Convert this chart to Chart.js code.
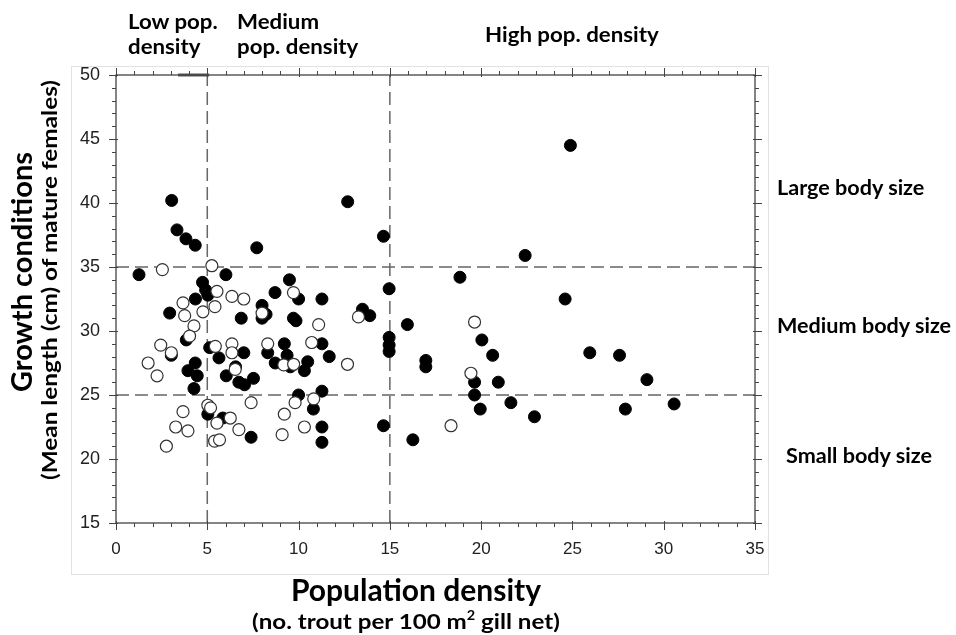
<!DOCTYPE html>
<html>
<head>
<meta charset="utf-8">
<script src="https://cdn.jsdelivr.net/npm/chart.js@4"></script>
<style>
  html, body { margin: 0; padding: 0; background: #fff; }
  #wrap { position: relative; width: 956px; height: 635px; overflow: hidden; }
  #frame { position: absolute; left: 71px; top: 66px; width: 696px; height: 507px; border: 1px solid #e2e2e2; }
  canvas { position: absolute; left: 0; top: 0; }
  .lbl { position: absolute; font-family: Lato, "Open Sans", sans-serif; font-weight: bold; color: #000; white-space: nowrap; }
  .top { font-size: 21px; line-height: 25px; transform: scaleX(1.06); transform-origin: left top; }
  .side { font-size: 20px; transform: translateY(-50%) scaleX(1.08); transform-origin: left center; }
  .rot { transform: translate(-50%, -50%) rotate(-90deg); }
  sup { font-size: 0.6em; vertical-align: 0.7em; line-height: 0; }
</style>
</head>
<body>
<div id="wrap">
  <div id="frame"></div>
  <canvas id="chart" width="956" height="635"></canvas>
  <div class="lbl top" style="left:128px; top:8px;">Low pop.<br>density</div>
  <div class="lbl top" style="left:237px; top:8px;">Medium<br>pop. density</div>
  <div class="lbl top" style="left:485px; top:21px;">High pop. density</div>
  <div class="lbl side" style="left:777px; top:187px;">Large body size</div>
  <div class="lbl side" style="left:777px; top:325px;">Medium body size</div>
  <div class="lbl side" style="left:786px; top:455px;">Small body size</div>
  <div class="lbl" style="left:416px; top:589px; font-size:30px; transform:translate(-50%,-50%);">Population density</div>
  <div class="lbl" style="left:406px; top:620px; font-size:21px; transform:translate(-50%,-50%) scaleX(1.15);">(no. trout per 100 m<sup>2</sup> gill net)</div>
  <div class="lbl rot" style="left:20px; top:272px; font-size:29px;">Growth conditions</div>
  <div class="lbl rot" style="left:48px; top:280px; font-size:21px; transform:translate(-50%,-50%) rotate(-90deg) scaleX(1.16);">(Mean length (cm) of mature females)</div>
</div>
<script>
// population density (x) and mean length (y), solid markers
const filledDensity = [3.05, 3.34, 3.83, 4.34, 7.71, 12.69, 14.65, 1.26, 6.02, 4.74, 4.91, 5.03, 4.35, 9.5, 8.71, 10.0, 11.28, 14.96,
  2.94, 8.0, 8.0, 8.22, 6.86, 9.72, 9.86, 13.5, 13.9, 3.85, 5.13, 5.64, 7.0, 9.22, 8.31, 9.37, 8.72, 9.55, 10.5, 10.32,
  11.28, 11.68, 3.03, 4.34, 3.94, 4.45, 4.27, 6.04, 6.73, 7.04, 7.53, 10.0, 11.28, 14.96, 14.96, 14.96, 5.03, 5.85, 7.4,
  10.81, 11.28, 11.28, 14.65, 6.55, 24.89, 22.41, 18.84, 24.6, 15.96, 16.97, 16.97, 20.04, 20.63, 25.95, 19.64, 20.94,
  19.64, 19.95, 21.63, 22.92, 16.26, 27.58, 29.08, 27.9, 30.57];
const filledLength = [40.2, 37.9, 37.2, 36.7, 36.5, 40.1, 37.4, 34.4, 34.4, 33.8, 33.2, 32.8, 32.5, 34.0, 33.0, 32.5, 32.5, 33.3,
  31.4, 32.0, 31.0, 31.3, 31.0, 31.0, 30.8, 31.7, 31.2, 29.3, 28.7, 27.9, 28.3, 29.0, 28.3, 28.1, 27.5, 27.2, 27.6, 26.9,
  29.0, 28.0, 28.1, 27.5, 26.9, 26.5, 25.5, 26.5, 26.0, 25.8, 26.3, 25.0, 25.3, 29.5, 28.9, 28.4, 23.5, 23.2, 21.7,
  23.9, 22.5, 21.3, 22.6, 27.2, 44.5, 35.9, 34.2, 32.5, 30.5, 27.7, 27.2, 29.3, 28.1, 28.3, 26.0, 26.0,
  25.0, 23.9, 24.4, 23.3, 21.5, 28.1, 26.2, 23.9, 24.3];

// open markers
const openDensity = [2.54, 5.25, 5.53, 6.35, 7.0, 3.67, 3.76, 4.76, 5.42, 4.27, 4.03, 8.0, 9.72, 13.28, 11.1, 2.45, 3.03, 1.76,
  2.25, 5.44, 6.35, 6.35, 8.31, 10.72, 9.19, 9.73, 6.53, 12.68, 5.03, 5.18, 7.4, 3.67, 3.27, 3.94, 2.76, 5.53, 6.26, 6.73,
  5.4, 5.67, 9.22, 9.81, 10.83, 9.1, 10.32, 19.64, 19.44, 18.35];
const openLength = [34.8, 35.1, 33.1, 32.7, 32.5, 32.2, 31.2, 31.5, 31.9, 30.4, 29.6, 31.4, 33.0, 31.1, 30.5, 28.9, 28.3, 27.5,
  26.5, 28.8, 29.0, 28.3, 29.0, 29.1, 27.35, 27.4, 27.0, 27.4, 24.2, 24.0, 24.4, 23.7, 22.5, 22.2, 21.0, 22.8, 23.2, 22.3,
  21.4, 21.5, 23.5, 24.4, 24.7, 21.9, 22.5, 30.7, 26.7, 22.6];

const densityCuts = [5, 15];
const bodySizeCuts = [25, 35];
const xRange = [0, 35];
const yRange = [15, 50];
const topBarX = [3.4, 5.1];

const toPoints = (xs, ys) => xs.map((v, i) => ({ x: v, y: ys[i] }));

const cutLines = [];
densityCuts.forEach(v => cutLines.push([{ x: v, y: yRange[0] }, { x: v, y: yRange[1] }]));
bodySizeCuts.forEach(v => cutLines.push([{ x: xRange[0], y: v }, { x: xRange[1], y: v }]));

const frameTicks = {
  id: 'frameTicks',
  afterDatasetsDraw(chart) {
    const { ctx, chartArea: a, scales: { x, y } } = chart;
    ctx.save();
    ctx.strokeStyle = '#444';
    ctx.lineWidth = 1.3;
    ctx.strokeRect(a.left, a.top, a.right - a.left, a.bottom - a.top);
    ctx.lineWidth = 1;
    ctx.beginPath();
    x.ticks.forEach(t => {
      const px = Math.round(x.getPixelForValue(t.value)) + 0.5;
      const major = t.value % 5 === 0;
      const len = major ? 7 : 4;
      ctx.moveTo(px, a.bottom - (major ? 2 : 0)); ctx.lineTo(px, a.bottom + len);
      ctx.moveTo(px, a.top + (major ? 2 : 0)); ctx.lineTo(px, a.top - len);
    });
    y.ticks.forEach(t => {
      const py = Math.round(y.getPixelForValue(t.value)) + 0.5;
      const major = t.value % 5 === 0;
      const len = major ? 7 : 4;
      ctx.moveTo(a.left + (major ? 2 : 0), py); ctx.lineTo(a.left - len, py);
      ctx.moveTo(a.right - (major ? 2 : 0), py); ctx.lineTo(a.right + len, py);
    });
    ctx.stroke();
    ctx.restore();
  }
};

const datasets = cutLines.map(d => ({
  type: 'line',
  data: d,
  showLine: true,
  borderColor: '#666',
  borderWidth: 1.5,
  borderDash: [13, 6],
  pointRadius: 0,
  fill: false,
  order: 5
}));

datasets.push({
  type: 'line',
  data: topBarX.map(v => ({ x: v, y: yRange[1] })),
  borderColor: '#555',
  borderWidth: 3,
  pointRadius: 0,
  clip: false,
  order: 4
});

datasets.push({
  label: 'filled',
  data: toPoints(filledDensity, filledLength),
  backgroundColor: '#000',
  borderColor: '#000',
  borderWidth: 1,
  pointRadius: 6,
  order: 2
});

datasets.push({
  label: 'open',
  data: toPoints(openDensity, openLength),
  backgroundColor: '#fff',
  borderColor: '#333',
  borderWidth: 1.2,
  pointRadius: 6,
  order: 1
});

new Chart(document.getElementById('chart'), {
  type: 'scatter',
  data: { datasets },
  options: {
    responsive: false,
    animation: false,
    layout: { padding: { left: 0, top: 75, right: 201, bottom: 0 } },
    plugins: { legend: { display: false }, tooltip: { enabled: false } },
    scales: {
      x: {
        type: 'linear',
        min: xRange[0],
        max: xRange[1],
        grid: { display: false },
        border: { display: false },
        ticks: {
          stepSize: 1,
          autoSkip: false,
          maxRotation: 0,
          padding: 8,
          color: '#222',
          font: { family: 'Liberation Sans, Arial, sans-serif', size: 17 },
          callback: v => (v % 5 === 0 ? v : '')
        },
        afterFit: s => { s.height = 112; }
      },
      y: {
        type: 'linear',
        min: yRange[0],
        max: yRange[1],
        grid: { display: false },
        border: { display: false },
        ticks: {
          stepSize: 1,
          autoSkip: false,
          padding: 8,
          color: '#222',
          font: { family: 'Liberation Sans, Arial, sans-serif', size: 18 },
          callback: v => (v % 5 === 0 ? v : '')
        },
        afterFit: s => { s.width = 116; }
      }
    }
  },
  plugins: [frameTicks]
});
</script>
</body>
</html>
